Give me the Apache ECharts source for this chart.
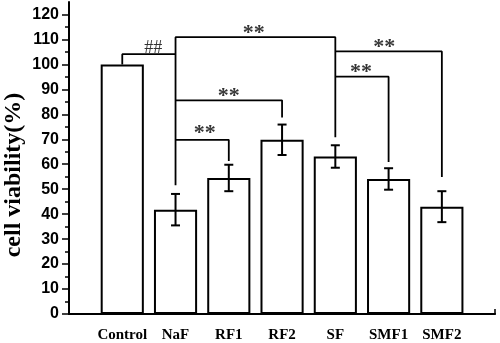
<!DOCTYPE html>
<html>
<head>
<meta charset="utf-8">
<script src="https://cdn.jsdelivr.net/npm/echarts@6/dist/echarts.min.js"></script>
<style>
  html, body { margin: 0; padding: 0; background: #fff; }
  #main { width: 500px; height: 343px; }
</style>
</head>
<body>
<div id="main"></div>
<script>
// groups and measured values
var groups = ['Control', 'NaF', 'RF1', 'RF2', 'SF', 'SMF1', 'SMF2'];
var viability = [100, 41.8, 54.5, 69.8, 63.1, 54.1, 43.0];
var sd = [0, 6.3, 5.3, 6.1, 4.5, 4.3, 6.2];

// y axis ticks
var yMajor = [0, 10, 20, 30, 40, 50, 60, 70, 80, 90, 100, 110, 120];
var yMinor = [5, 15, 25, 35, 45, 55, 65, 75, 85, 95, 105, 115];

// significance brackets, points as [group, value]
var bracketHash = [['Control', 100], ['Control', 104.1], ['NaF', 104.1]];
var bracketNaFSF = [['NaF', 51.6], ['NaF', 110.9], ['SF', 110.9], ['SF', 70.8]];
var bracketNaFRF2 = [['NaF', 85.6], ['RF2', 85.6], ['RF2', 78.7]];
var bracketNaFRF1 = [['NaF', 69.8], ['RF1', 69.8], ['RF1', 61.3]];
var bracketSFSMF2 = [['SF', 105.2], ['SMF2', 105.2], ['SMF2', 54.9]];
var bracketSFSMF1 = [['SF', 95.1], ['SMF1', 95.1], ['SMF1', 60.9]];

// significance marks (x in category units, 0 = axis start)
var markText = ['##', '**', '**', '**', '**', '**'];
var markX = [1.58, 3.47, 3.0, 2.55, 5.92, 5.48];
var markY = [106.6, 112.6, 87.2, 72.3, 106.7, 97.0];

var cats = [''].concat(groups).concat([' ']);

var myChart = echarts.init(document.getElementById('main'));

function bracketSeries(pts) {
	return {
		type: 'line',
		xAxisIndex: 0,
		yAxisIndex: 0,
		data: pts,
		symbol: 'none',
		lineStyle: { color: '#000', width: 1.8 },
		silent: true,
		z: 5
	};
}

var markData = [];
for (var i = 0; i < markText.length; i++) {
	var isHash = markText[i] === '##';
	markData.push({
		value: [markX[i], markY[i]],
		name: markText[i],
		label: {
			fontFamily: 'Liberation Serif',
			fontWeight: isHash ? 'normal' : 'bold',
			fontSize: isHash ? 18 : 22
		}
	});
}

var option = {
	animation: false,
	backgroundColor: '#fff',
	grid: { left: 69, right: 2, top: 2, bottom: 26 },
	xAxis: [{
		type: 'category',
		data: cats,
		boundaryGap: false,
		axisLine: { lineStyle: { color: '#000', width: 2 } },
		axisTick: { inside: true, length: 5, lineStyle: { color: '#000', width: 1.5 } },
		axisLabel: {
			interval: 0,
			margin: 14,
			color: '#000',
			fontFamily: 'Liberation Serif',
			fontWeight: 'bold',
			fontSize: 15
		},
		splitLine: { show: false }
	}, {
		type: 'value',
		min: 0,
		max: 8,
		show: false
	}],
	yAxis: [{
		type: 'value',
		min: 0,
		max: 125,
		interval: 5,
		axisLine: { show: true, lineStyle: { color: '#000', width: 2 } },
		axisTick: { show: true, length: 7, customValues: yMajor, lineStyle: { color: '#000', width: 1.5 } },
		axisLabel: {
			customValues: yMajor,
			margin: 10,
			color: '#000',
			fontFamily: 'Liberation Sans',
			fontWeight: 'bold',
			fontSize: 16
		},
		splitLine: { show: false }
	}, {
		type: 'value',
		min: 0,
		max: 125,
		position: 'left',
		offset: 0,
		interval: 5,
		axisLine: { show: false },
		axisTick: { show: true, length: 4, customValues: yMinor, lineStyle: { color: '#000', width: 1.5 } },
		axisLabel: { show: false },
		splitLine: { show: false }
	}],
	graphic: [{
		type: 'text',
		x: 14,
		y: 175,
		rotation: Math.PI / 2,
		style: {
			text: 'cell viability(%)',
			fill: '#000',
			font: 'bold 24px "Liberation Serif"',
			textAlign: 'center',
			textVerticalAlign: 'middle'
		}
	}],
	series: [{
		type: 'bar',
		xAxisIndex: 0,
		yAxisIndex: 0,
		barWidth: '81%',
		data: groups.map(function (g, i) { return [g, viability[i]]; }),
		itemStyle: { color: '#fff', borderColor: '#000', borderWidth: 2 },
		silent: true
	}, {
		type: 'custom',
		xAxisIndex: 0,
		yAxisIndex: 0,
		data: groups.map(function (g, i) { return [i + 1, viability[i], sd[i]]; }),
		renderItem: function (params, api) {
			var x = api.value(0), m = api.value(1), e = api.value(2);
			if (!e) return null;
			var hi = api.coord([x, m + e]);
			var lo = api.coord([x, m - e]);
			var w = 4.5;
			var st = { stroke: '#000', lineWidth: 2 };
			return {
				type: 'group',
				children: [
					{ type: 'line', shape: { x1: hi[0], y1: hi[1], x2: lo[0], y2: lo[1] }, style: st },
					{ type: 'line', shape: { x1: hi[0] - w, y1: hi[1], x2: hi[0] + w, y2: hi[1] }, style: st },
					{ type: 'line', shape: { x1: lo[0] - w, y1: lo[1], x2: lo[0] + w, y2: lo[1] }, style: st }
				]
			};
		},
		z: 4,
		silent: true
	},
	bracketSeries(bracketHash),
	bracketSeries(bracketNaFSF),
	bracketSeries(bracketNaFRF2),
	bracketSeries(bracketNaFRF1),
	bracketSeries(bracketSFSMF2),
	bracketSeries(bracketSFSMF1),
	{
		type: 'scatter',
		xAxisIndex: 1,
		yAxisIndex: 0,
		symbolSize: 0,
		data: markData,
		label: {
			show: true,
			position: 'inside',
			color: '#000',
			formatter: '{b}'
		},
		silent: true,
		z: 6
	}]
};

myChart.setOption(option);
</script>
</body>
</html>
